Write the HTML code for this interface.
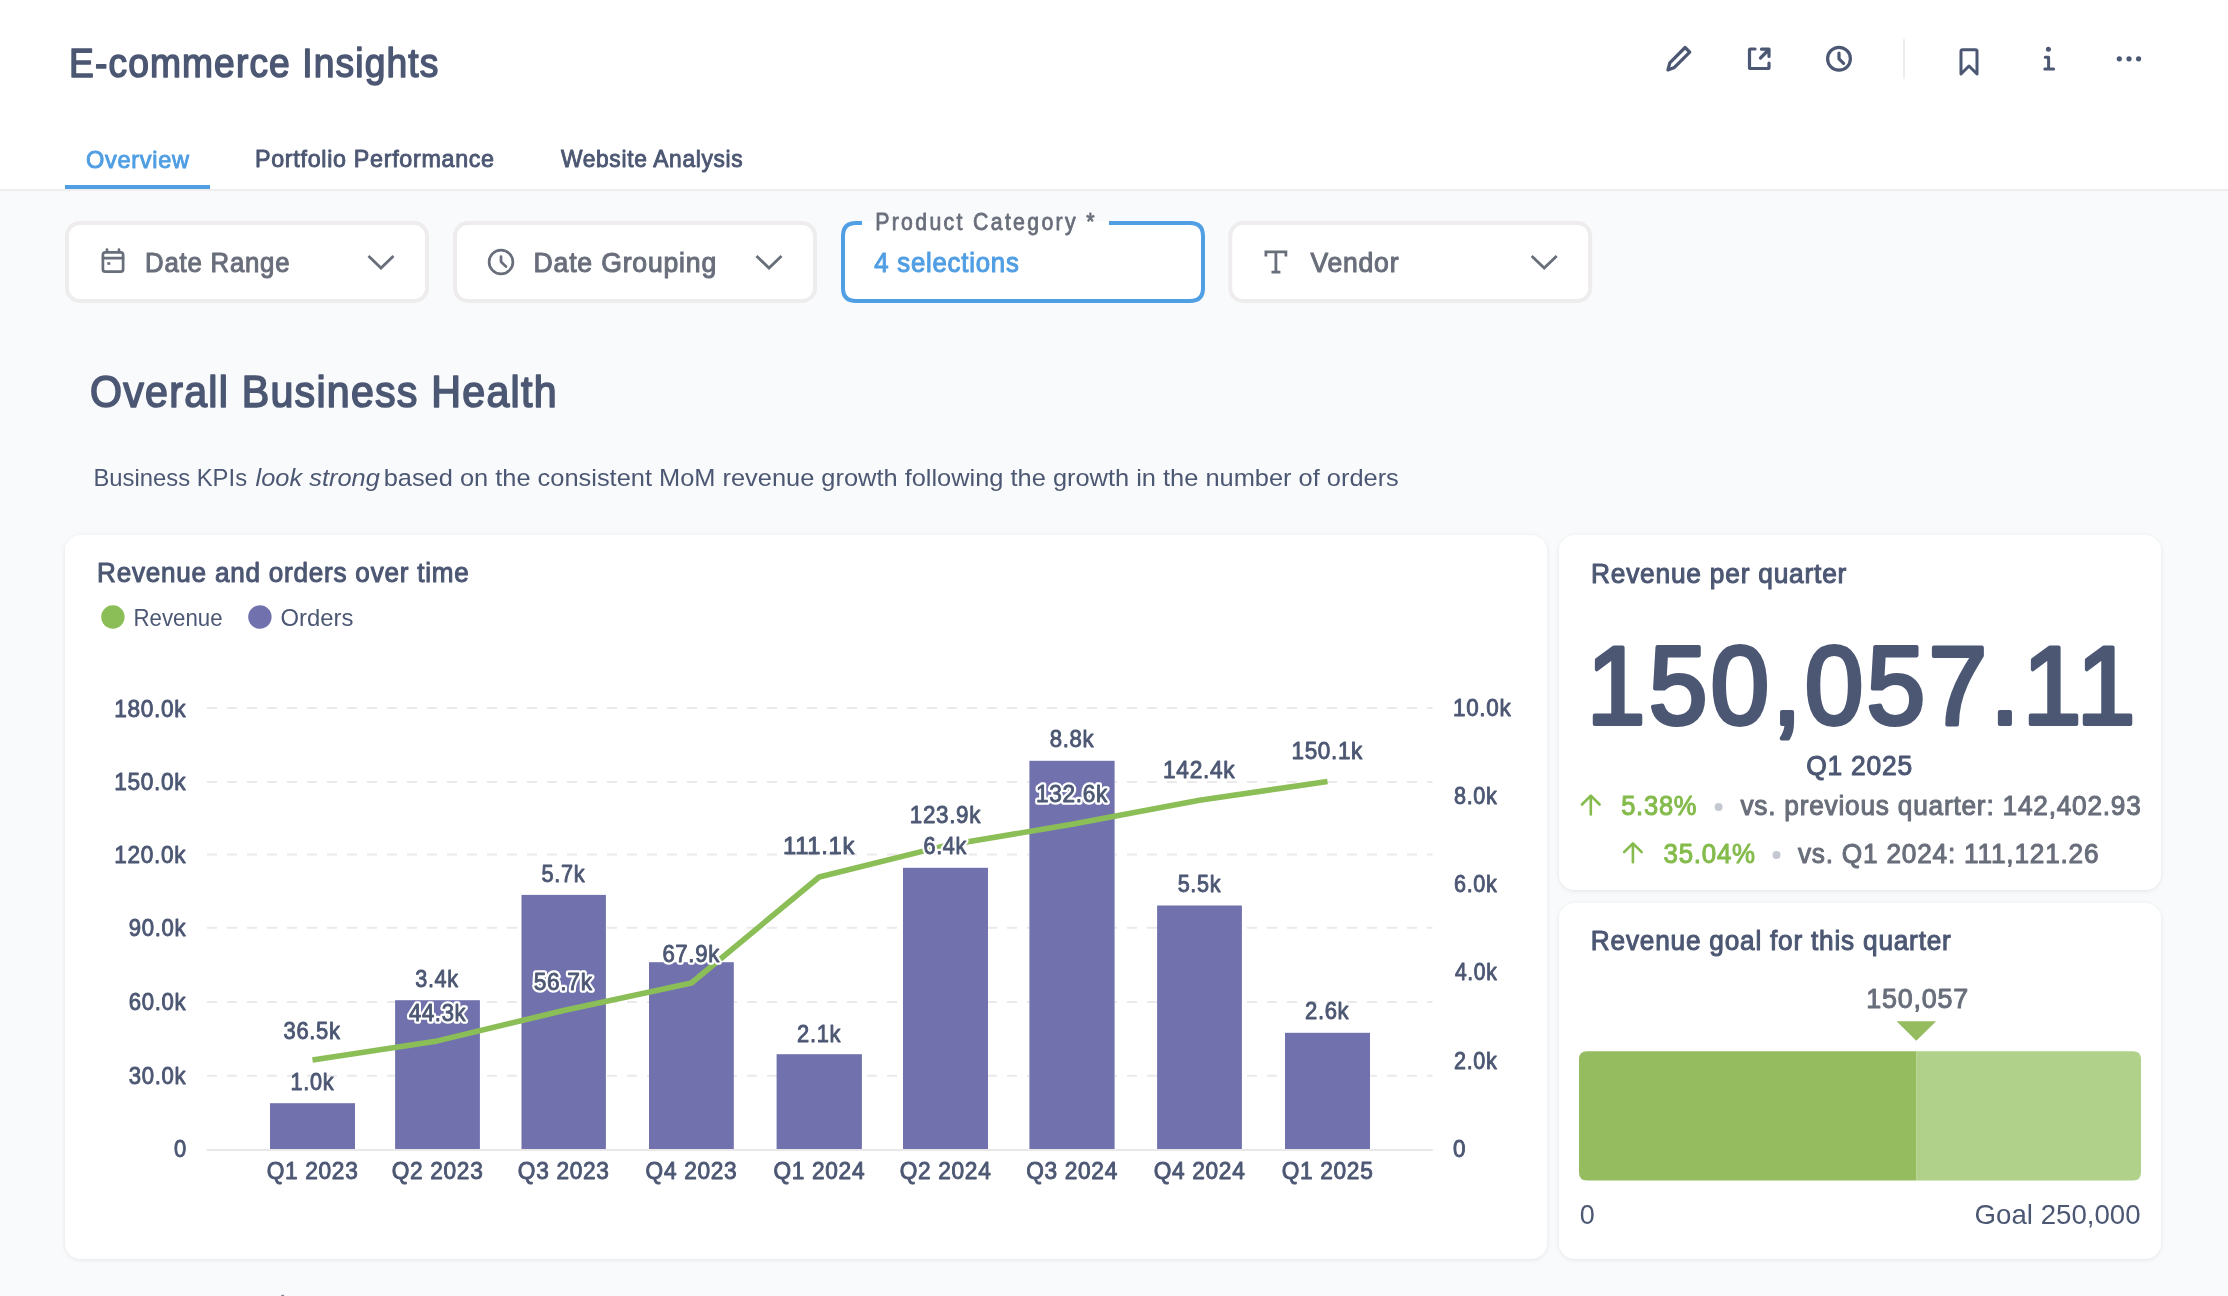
<!DOCTYPE html><html><head><meta charset="utf-8"><title>E-commerce Insights</title><style>
html,body{margin:0;padding:0;width:2228px;height:1296px;overflow:hidden;background:#F9FAFB;}
svg{display:block;position:absolute;left:0;top:0;will-change:transform;}
text{font-family:"Liberation Sans",sans-serif;}
</style></head><body>
<svg width="2228" height="1296" viewBox="0 0 2228 1296">
<defs><filter id="sh" x="-5%" y="-5%" width="110%" height="110%"><feDropShadow dx="0" dy="1" stdDeviation="2" flood-color="#000" flood-opacity="0.09"/></filter></defs>
<rect x="0" y="0" width="2228" height="189" fill="#fff"/>
<rect x="0" y="189" width="2228" height="2" fill="#EEECEC"/>
<rect x="65" y="185" width="145" height="4" fill="#509EE3"/>
<path d="M1667.9 69.9 L1669.8 62.8 L1685.1 47.5 L1689.75 52.15 L1674.45 67.45 Z" fill="none" stroke="#4C5773" stroke-width="3.2" stroke-linecap="round" stroke-linejoin="round"/>
<path d="M1755 49 L1750.5 49 Q1749.5 49 1749.5 50 L1749.5 67.5 Q1749.5 68.5 1750.5 68.5 L1768 68.5 Q1769 68.5 1769 67.5 L1769 63" fill="none" stroke="#4C5773" stroke-width="3.2" stroke-linecap="round" stroke-linejoin="round"/>
<path d="M1760.5 58 L1768.5 50 M1761.5 49.2 L1769 49.2 L1769 56.5" fill="none" stroke="#4C5773" stroke-width="3.2" stroke-linecap="round" stroke-linejoin="round"/>
<circle cx="1839" cy="58.8" r="11.4" fill="none" stroke="#4C5773" stroke-width="3.2" stroke-linecap="round" stroke-linejoin="round"/>
<path d="M1839 53.2 L1839 58.8 L1843.6 63.4" fill="none" stroke="#4C5773" stroke-width="3.2" stroke-linecap="round" stroke-linejoin="round"/>
<rect x="1903" y="39" width="2" height="40" fill="#EEECEC"/>
<path d="M1961 74 L1961 51.5 Q1961 49.8 1962.7 49.8 L1975.3 49.8 Q1977 49.8 1977 51.5 L1977 74 L1969 66 Z" fill="none" stroke="#4C5773" stroke-width="3" stroke-linejoin="round" stroke-linecap="round"/>
<circle cx="2048.4" cy="49.3" r="2.5" fill="#4C5773"/>
<path d="M2045.3 57.2 L2048.6 57.2 L2048.6 69 M2044.8 69 L2053.6 69" fill="none" stroke="#4C5773" stroke-width="3" stroke-linecap="round" stroke-linejoin="round"/>
<circle cx="2119.3" cy="58.8" r="2.6" fill="#4C5773"/>
<circle cx="2129" cy="58.8" r="2.6" fill="#4C5773"/>
<circle cx="2138.6" cy="58.8" r="2.6" fill="#4C5773"/>
<rect x="67" y="223" width="360" height="78" rx="13" fill="#fff" stroke="#EEECEC" stroke-width="4"/>
<rect x="455" y="223" width="360" height="78" rx="13" fill="#fff" stroke="#EEECEC" stroke-width="4"/>
<rect x="841" y="221" width="364" height="82" rx="15" fill="#fff"/>
<path d="M862 223 L856 223 Q843 223 843 236 L843 288 Q843 301 856 301 L1190 301 Q1203 301 1203 288 L1203 236 Q1203 223 1190 223 L1109 223" fill="none" stroke="#509EE3" stroke-width="4"/>
<rect x="1230.2" y="223" width="360" height="78" rx="13" fill="#fff" stroke="#EEECEC" stroke-width="4"/>
<rect x="102.9" y="252.3" width="20.2" height="19.4" rx="2.5" fill="none" stroke="#696E7B" stroke-width="2.7" stroke-linecap="round" stroke-linejoin="round"/>
<path d="M103 258.2 L123 258.2 M107 249.5 L107 252 M119 249.5 L119 252" fill="none" stroke="#696E7B" stroke-width="2.7" stroke-linecap="round" stroke-linejoin="round"/>
<rect x="107.3" y="262.2" width="3" height="2.6" fill="#696E7B"/>
<path d="M368.5 256 L381.0 268 L393.5 256" fill="none" stroke="#696E7B" stroke-width="2.8" stroke-linecap="butt" stroke-linejoin="miter"/>
<path d="M756.5 256 L769.0 268 L781.5 256" fill="none" stroke="#696E7B" stroke-width="2.8" stroke-linecap="butt" stroke-linejoin="miter"/>
<path d="M1531.7 256 L1544.2 268 L1556.7 256" fill="none" stroke="#696E7B" stroke-width="2.8" stroke-linecap="butt" stroke-linejoin="miter"/>
<circle cx="501" cy="262" r="11.9" fill="none" stroke="#696E7B" stroke-width="2.7" stroke-linecap="round" stroke-linejoin="round"/>
<path d="M501 256.5 L501 261.8 L506 266.6" fill="none" stroke="#696E7B" stroke-width="2.7" stroke-linecap="round" stroke-linejoin="round"/>
<path d="M1265.9 256.6 L1265.9 251.8 L1285.9 251.8 L1285.9 256.6 M1275.9 251.8 L1275.9 272.2 M1271.5 272.2 L1280.4 272.2" fill="none" stroke="#696E7B" stroke-width="2.8" stroke-linecap="butt" stroke-linejoin="miter"/>
<g filter="url(#sh)">
<rect x="65" y="535" width="1482" height="724" rx="16" fill="#fff"/>
<rect x="1559" y="535" width="602" height="355" rx="16" fill="#fff"/>
<rect x="1559" y="903" width="602" height="356" rx="16" fill="#fff"/>
</g>
<circle cx="112.9" cy="617" r="11.7" fill="#8BBE57"/>
<circle cx="259.9" cy="617" r="11.7" fill="#7172AD"/>
<line x1="207" y1="708" x2="1432.5" y2="708" stroke="#EBE9EA" stroke-width="2" stroke-dasharray="10 10"/>
<line x1="207" y1="781.9" x2="1432.5" y2="781.9" stroke="#EBE9EA" stroke-width="2" stroke-dasharray="10 10"/>
<line x1="207" y1="854.6" x2="1432.5" y2="854.6" stroke="#EBE9EA" stroke-width="2" stroke-dasharray="10 10"/>
<line x1="207" y1="927.8" x2="1432.5" y2="927.8" stroke="#EBE9EA" stroke-width="2" stroke-dasharray="10 10"/>
<line x1="207" y1="1001.9" x2="1432.5" y2="1001.9" stroke="#EBE9EA" stroke-width="2" stroke-dasharray="10 10"/>
<line x1="207" y1="1075.7" x2="1432.5" y2="1075.7" stroke="#EBE9EA" stroke-width="2" stroke-dasharray="10 10"/>
<rect x="270" y="1103.2" width="85.0" height="45.8" fill="#7172AD"/>
<rect x="395.1" y="1000.2" width="84.8" height="148.8" fill="#7172AD"/>
<rect x="521.5" y="894.9" width="84.4" height="254.1" fill="#7172AD"/>
<rect x="649" y="962.2" width="84.8" height="186.8" fill="#7172AD"/>
<rect x="776.6" y="1054.2" width="85.3" height="94.8" fill="#7172AD"/>
<rect x="903" y="867.8" width="85.0" height="281.2" fill="#7172AD"/>
<rect x="1029.4" y="760.8" width="85.2" height="388.2" fill="#7172AD"/>
<rect x="1157.1" y="905.5" width="84.8" height="243.5" fill="#7172AD"/>
<rect x="1285" y="1032.8" width="85.0" height="116.2" fill="#7172AD"/>
<rect x="206.7" y="1149" width="1226.1" height="2" fill="#E9E7E8"/>
<polyline points="312.5,1060.1 437.5,1040.9 563.7,1010.5 691.4,983.0 819.2,877.0 945.5,845.6 1072.0,824.3 1199.5,800.2 1327.5,781.4" fill="none" stroke="#8BBE57" stroke-width="5.6" stroke-linejoin="bevel" stroke-linecap="butt"/>
<path d="M1590.8 814.5 L1590.8 796 M1582 804.5 L1590.8 795.7 L1599.6 804.5" fill="none" stroke="#84BB4C" stroke-width="2.6" stroke-linecap="round" stroke-linejoin="round"/>
<path d="M1632.9 862.2 L1632.9 843.7 M1624.1 852.2 L1632.9 843.4 L1641.7 852.2" fill="none" stroke="#84BB4C" stroke-width="2.6" stroke-linecap="round" stroke-linejoin="round"/>
<circle cx="1718.6" cy="807" r="4" fill="#C4C8D0"/>
<circle cx="1776.5" cy="854.9" r="4" fill="#C4C8D0"/>
<path d="M1587 1051.2 L1916.6 1051.2 L1916.6 1180.6 L1587 1180.6 Q1579 1180.6 1579 1172.6 L1579 1059.2 Q1579 1051.2 1587 1051.2 Z" fill="#95BD5F"/>
<path d="M1916.6 1051.2 L2133 1051.2 Q2141 1051.2 2141 1059.2 L2141 1172.6 Q2141 1180.6 2133 1180.6 L1916.6 1180.6 Z" fill="#B0D189"/>
<path d="M1896.6 1021.2 L1936.1 1021.2 L1916.3 1040.8 Z" fill="#95BD5F"/>
<rect x="281.3" y="1294.8" width="2.8" height="1.2" fill="#7A8196"/>
<text x="69.07" y="77.24" font-size="40" font-weight="normal" stroke="#4C5773" stroke-width="1.52" stroke-linejoin="round" letter-spacing="1.20" fill="#4C5773" textLength="370.29" lengthAdjust="spacingAndGlyphs">E-commerce Insights</text>
<text x="86.00" y="167.53" font-size="24.5" font-weight="normal" stroke="#509EE3" stroke-width="0.93" stroke-linejoin="round" letter-spacing="0.73" fill="#509EE3" textLength="103.65" lengthAdjust="spacingAndGlyphs">Overview</text>
<text x="255.00" y="167.03" font-size="24.5" font-weight="normal" stroke="#4C5773" stroke-width="0.93" stroke-linejoin="round" letter-spacing="0.73" fill="#4C5773" textLength="239.77" lengthAdjust="spacingAndGlyphs">Portfolio Performance</text>
<text x="560.93" y="167.03" font-size="24.5" font-weight="normal" stroke="#4C5773" stroke-width="0.93" stroke-linejoin="round" letter-spacing="0.73" fill="#4C5773" textLength="182.48" lengthAdjust="spacingAndGlyphs">Website Analysis</text>
<text x="145.08" y="271.97" font-size="28" font-weight="normal" stroke="#696E7B" stroke-width="1.06" stroke-linejoin="round" letter-spacing="0.84" fill="#696E7B" textLength="145.20" lengthAdjust="spacingAndGlyphs">Date Range</text>
<text x="533.55" y="271.97" font-size="28" font-weight="normal" stroke="#696E7B" stroke-width="1.06" stroke-linejoin="round" letter-spacing="0.84" fill="#696E7B" textLength="183.43" lengthAdjust="spacingAndGlyphs">Date Grouping</text>
<text x="875.20" y="229.8" font-size="23.7" font-weight="normal" stroke="#696E7B" stroke-width="0.80" stroke-linejoin="round" letter-spacing="2.60" fill="#696E7B" textLength="221.64" lengthAdjust="spacingAndGlyphs">Product Category *</text>
<text x="874.22" y="272.37" font-size="28" font-weight="normal" stroke="#509EE3" stroke-width="1.06" stroke-linejoin="round" letter-spacing="0.84" fill="#509EE3" textLength="145.36" lengthAdjust="spacingAndGlyphs">4 selections</text>
<text x="1310.45" y="272.47" font-size="28" font-weight="normal" stroke="#696E7B" stroke-width="1.06" stroke-linejoin="round" letter-spacing="0.84" fill="#696E7B" textLength="88.86" lengthAdjust="spacingAndGlyphs">Vendor</text>
<text x="90.00" y="406.66" font-size="44" font-weight="normal" stroke="#4C5773" stroke-width="1.67" stroke-linejoin="round" letter-spacing="1.32" fill="#4C5773" textLength="467.78" lengthAdjust="spacingAndGlyphs">Overall Business Health</text>
<text x="93.43" y="485.7" font-size="24.5" font-weight="normal" fill="#4C5773" textLength="153.64" lengthAdjust="spacingAndGlyphs">Business KPIs</text>
<text x="255.60" y="485.7" font-size="24.5" font-weight="normal" font-style="italic" fill="#4C5773" textLength="124.25" lengthAdjust="spacingAndGlyphs">look strong</text>
<text x="383.66" y="485.7" font-size="24.5" font-weight="normal" fill="#4C5773" textLength="1015.13" lengthAdjust="spacingAndGlyphs">based on the consistent MoM revenue growth following the growth in the number of orders</text>
<text x="97.05" y="581.98" font-size="27.5" font-weight="normal" stroke="#4C5773" stroke-width="1.04" stroke-linejoin="round" letter-spacing="0.82" fill="#4C5773" textLength="372.54" lengthAdjust="spacingAndGlyphs">Revenue and orders over time</text>
<text x="133.57" y="626" font-size="24" font-weight="normal" fill="#4C5773" textLength="89.00" lengthAdjust="spacingAndGlyphs">Revenue</text>
<text x="280.50" y="626" font-size="24" font-weight="normal" fill="#4C5773" textLength="72.86" lengthAdjust="spacingAndGlyphs">Orders</text>
<text x="114.16" y="716.54" font-size="24" font-weight="normal" stroke="#4C5773" stroke-width="0.91" stroke-linejoin="round" letter-spacing="0.72" fill="#4C5773" textLength="72.07" lengthAdjust="spacingAndGlyphs">180.0k</text>
<text x="114.16" y="789.54" font-size="24" font-weight="normal" stroke="#4C5773" stroke-width="0.91" stroke-linejoin="round" letter-spacing="0.72" fill="#4C5773" textLength="72.07" lengthAdjust="spacingAndGlyphs">150.0k</text>
<text x="114.36" y="863.44" font-size="24" font-weight="normal" stroke="#4C5773" stroke-width="0.91" stroke-linejoin="round" letter-spacing="0.72" fill="#4C5773" textLength="71.87" lengthAdjust="spacingAndGlyphs">120.0k</text>
<text x="128.70" y="936.44" font-size="24" font-weight="normal" stroke="#4C5773" stroke-width="0.91" stroke-linejoin="round" letter-spacing="0.72" fill="#4C5773" textLength="57.47" lengthAdjust="spacingAndGlyphs">90.0k</text>
<text x="128.70" y="1010.44" font-size="24" font-weight="normal" stroke="#4C5773" stroke-width="0.91" stroke-linejoin="round" letter-spacing="0.72" fill="#4C5773" textLength="57.47" lengthAdjust="spacingAndGlyphs">60.0k</text>
<text x="128.70" y="1084.14" font-size="24" font-weight="normal" stroke="#4C5773" stroke-width="0.91" stroke-linejoin="round" letter-spacing="0.72" fill="#4C5773" textLength="57.47" lengthAdjust="spacingAndGlyphs">30.0k</text>
<text x="174.00" y="1157.04" font-size="24" font-weight="normal" stroke="#4C5773" stroke-width="0.91" stroke-linejoin="round" letter-spacing="0.72" fill="#4C5773" textLength="12.87" lengthAdjust="spacingAndGlyphs">0</text>
<text x="1453.06" y="716.24" font-size="24" font-weight="normal" stroke="#4C5773" stroke-width="0.91" stroke-linejoin="round" letter-spacing="0.72" fill="#4C5773" textLength="58.29" lengthAdjust="spacingAndGlyphs">10.0k</text>
<text x="1454.00" y="804.24" font-size="24" font-weight="normal" stroke="#4C5773" stroke-width="0.91" stroke-linejoin="round" letter-spacing="0.72" fill="#4C5773" textLength="43.33" lengthAdjust="spacingAndGlyphs">8.0k</text>
<text x="1454.00" y="892.04" font-size="24" font-weight="normal" stroke="#4C5773" stroke-width="0.91" stroke-linejoin="round" letter-spacing="0.72" fill="#4C5773" textLength="43.33" lengthAdjust="spacingAndGlyphs">6.0k</text>
<text x="1454.88" y="980.24" font-size="24" font-weight="normal" stroke="#4C5773" stroke-width="0.91" stroke-linejoin="round" letter-spacing="0.72" fill="#4C5773" textLength="42.46" lengthAdjust="spacingAndGlyphs">4.0k</text>
<text x="1454.00" y="1068.84" font-size="24" font-weight="normal" stroke="#4C5773" stroke-width="0.91" stroke-linejoin="round" letter-spacing="0.72" fill="#4C5773" textLength="43.33" lengthAdjust="spacingAndGlyphs">2.0k</text>
<text x="1452.90" y="1156.74" font-size="24" font-weight="normal" stroke="#4C5773" stroke-width="0.91" stroke-linejoin="round" letter-spacing="0.72" fill="#4C5773" textLength="13.17" lengthAdjust="spacingAndGlyphs">0</text>
<text x="266.65" y="1179.14" font-size="24" font-weight="normal" stroke="#4C5773" stroke-width="0.91" stroke-linejoin="round" letter-spacing="0.72" fill="#4C5773" textLength="91.82" lengthAdjust="spacingAndGlyphs">Q1 2023</text>
<text x="391.65" y="1179.14" font-size="24" font-weight="normal" stroke="#4C5773" stroke-width="0.91" stroke-linejoin="round" letter-spacing="0.72" fill="#4C5773" textLength="91.82" lengthAdjust="spacingAndGlyphs">Q2 2023</text>
<text x="517.85" y="1179.14" font-size="24" font-weight="normal" stroke="#4C5773" stroke-width="0.91" stroke-linejoin="round" letter-spacing="0.72" fill="#4C5773" textLength="91.82" lengthAdjust="spacingAndGlyphs">Q3 2023</text>
<text x="645.55" y="1179.14" font-size="24" font-weight="normal" stroke="#4C5773" stroke-width="0.91" stroke-linejoin="round" letter-spacing="0.72" fill="#4C5773" textLength="91.82" lengthAdjust="spacingAndGlyphs">Q4 2023</text>
<text x="773.40" y="1179.14" font-size="24" font-weight="normal" stroke="#4C5773" stroke-width="0.91" stroke-linejoin="round" letter-spacing="0.72" fill="#4C5773" textLength="91.82" lengthAdjust="spacingAndGlyphs">Q1 2024</text>
<text x="899.65" y="1179.14" font-size="24" font-weight="normal" stroke="#4C5773" stroke-width="0.91" stroke-linejoin="round" letter-spacing="0.72" fill="#4C5773" textLength="91.82" lengthAdjust="spacingAndGlyphs">Q2 2024</text>
<text x="1026.15" y="1179.14" font-size="24" font-weight="normal" stroke="#4C5773" stroke-width="0.91" stroke-linejoin="round" letter-spacing="0.72" fill="#4C5773" textLength="91.82" lengthAdjust="spacingAndGlyphs">Q3 2024</text>
<text x="1153.65" y="1179.14" font-size="24" font-weight="normal" stroke="#4C5773" stroke-width="0.91" stroke-linejoin="round" letter-spacing="0.72" fill="#4C5773" textLength="91.82" lengthAdjust="spacingAndGlyphs">Q4 2024</text>
<text x="1281.65" y="1179.14" font-size="24" font-weight="normal" stroke="#4C5773" stroke-width="0.91" stroke-linejoin="round" letter-spacing="0.72" fill="#4C5773" textLength="91.82" lengthAdjust="spacingAndGlyphs">Q1 2025</text>
<text x="283.60" y="1038.54" font-size="24" font-weight="normal" stroke="#4C5773" stroke-width="0.91" stroke-linejoin="round" letter-spacing="0.72" fill="#4C5773" textLength="56.97" lengthAdjust="spacingAndGlyphs">36.5k</text>
<text x="290.60" y="1090.24" font-size="24" font-weight="normal" stroke="#4C5773" stroke-width="0.91" stroke-linejoin="round" letter-spacing="0.72" fill="#4C5773" textLength="43.53" lengthAdjust="spacingAndGlyphs">1.0k</text>
<text x="415.30" y="986.84" font-size="24" font-weight="normal" stroke="#4C5773" stroke-width="0.91" stroke-linejoin="round" letter-spacing="0.72" fill="#4C5773" textLength="43.33" lengthAdjust="spacingAndGlyphs">3.4k</text>
<text x="409.02" y="1021.24" font-size="24" font-weight="normal" letter-spacing="0.72" fill="#fff" stroke="#fff" stroke-width="5.41" stroke-linejoin="round" textLength="57.25" lengthAdjust="spacingAndGlyphs">44.3k</text><text x="409.02" y="1021.24" font-size="24" font-weight="normal" stroke="#4C5773" stroke-width="0.91" stroke-linejoin="round" letter-spacing="0.72" fill="#4C5773" textLength="57.25" lengthAdjust="spacingAndGlyphs">44.3k</text>
<text x="541.60" y="881.64" font-size="24" font-weight="normal" stroke="#4C5773" stroke-width="0.91" stroke-linejoin="round" letter-spacing="0.72" fill="#4C5773" textLength="43.62" lengthAdjust="spacingAndGlyphs">5.7k</text>
<text x="533.80" y="989.84" font-size="24" font-weight="normal" letter-spacing="0.72" fill="#fff" stroke="#fff" stroke-width="5.41" stroke-linejoin="round" textLength="58.85" lengthAdjust="spacingAndGlyphs">56.7k</text><text x="533.80" y="989.84" font-size="24" font-weight="normal" stroke="#4C5773" stroke-width="0.91" stroke-linejoin="round" letter-spacing="0.72" fill="#4C5773" textLength="58.85" lengthAdjust="spacingAndGlyphs">56.7k</text>
<text x="662.40" y="961.74" font-size="24" font-weight="normal" letter-spacing="0.72" fill="#fff" stroke="#fff" stroke-width="5.41" stroke-linejoin="round" textLength="57.47" lengthAdjust="spacingAndGlyphs">67.9k</text><text x="662.40" y="961.74" font-size="24" font-weight="normal" stroke="#4C5773" stroke-width="0.91" stroke-linejoin="round" letter-spacing="0.72" fill="#4C5773" textLength="57.47" lengthAdjust="spacingAndGlyphs">67.9k</text>
<text x="783.01" y="853.54" font-size="24" font-weight="normal" stroke="#4C5773" stroke-width="0.91" stroke-linejoin="round" letter-spacing="0.72" fill="#4C5773" textLength="72.12" lengthAdjust="spacingAndGlyphs">111.1k</text>
<text x="797.10" y="1041.84" font-size="24" font-weight="normal" stroke="#4C5773" stroke-width="0.91" stroke-linejoin="round" letter-spacing="0.72" fill="#4C5773" textLength="44.02" lengthAdjust="spacingAndGlyphs">2.1k</text>
<text x="909.87" y="822.84" font-size="24" font-weight="normal" stroke="#4C5773" stroke-width="0.91" stroke-linejoin="round" letter-spacing="0.72" fill="#4C5773" textLength="71.16" lengthAdjust="spacingAndGlyphs">123.9k</text>
<text x="923.50" y="853.54" font-size="24" font-weight="normal" letter-spacing="0.72" fill="#fff" stroke="#fff" stroke-width="5.41" stroke-linejoin="round" textLength="43.43" lengthAdjust="spacingAndGlyphs">6.4k</text><text x="923.50" y="853.54" font-size="24" font-weight="normal" stroke="#4C5773" stroke-width="0.91" stroke-linejoin="round" letter-spacing="0.72" fill="#4C5773" textLength="43.43" lengthAdjust="spacingAndGlyphs">6.4k</text>
<text x="1049.70" y="747.44" font-size="24" font-weight="normal" stroke="#4C5773" stroke-width="0.91" stroke-linejoin="round" letter-spacing="0.72" fill="#4C5773" textLength="44.51" lengthAdjust="spacingAndGlyphs">8.8k</text>
<text x="1036.06" y="802.34" font-size="24" font-weight="normal" letter-spacing="0.72" fill="#fff" stroke="#fff" stroke-width="5.41" stroke-linejoin="round" textLength="71.87" lengthAdjust="spacingAndGlyphs">132.6k</text><text x="1036.06" y="802.34" font-size="24" font-weight="normal" stroke="#4C5773" stroke-width="0.91" stroke-linejoin="round" letter-spacing="0.72" fill="#4C5773" textLength="71.87" lengthAdjust="spacingAndGlyphs">132.6k</text>
<text x="1163.05" y="778.34" font-size="24" font-weight="normal" stroke="#4C5773" stroke-width="0.91" stroke-linejoin="round" letter-spacing="0.72" fill="#4C5773" textLength="72.27" lengthAdjust="spacingAndGlyphs">142.4k</text>
<text x="1177.70" y="892.04" font-size="24" font-weight="normal" stroke="#4C5773" stroke-width="0.91" stroke-linejoin="round" letter-spacing="0.72" fill="#4C5773" textLength="43.42" lengthAdjust="spacingAndGlyphs">5.5k</text>
<text x="1291.46" y="759.04" font-size="24" font-weight="normal" stroke="#4C5773" stroke-width="0.91" stroke-linejoin="round" letter-spacing="0.72" fill="#4C5773" textLength="71.57" lengthAdjust="spacingAndGlyphs">150.1k</text>
<text x="1305.00" y="1019.34" font-size="24" font-weight="normal" stroke="#4C5773" stroke-width="0.91" stroke-linejoin="round" letter-spacing="0.72" fill="#4C5773" textLength="44.31" lengthAdjust="spacingAndGlyphs">2.6k</text>
<text x="1590.94" y="582.78" font-size="27.5" font-weight="normal" stroke="#4C5773" stroke-width="1.04" stroke-linejoin="round" letter-spacing="0.82" fill="#4C5773" textLength="256.19" lengthAdjust="spacingAndGlyphs">Revenue per quarter</text>
<text x="1586.80" y="724.19" font-size="111" font-weight="normal" stroke="#4C5773" stroke-width="4.22" stroke-linejoin="round" letter-spacing="3.33" fill="#4C5773" textLength="551.78" lengthAdjust="spacingAndGlyphs">150,057.11</text>
<text x="1806.20" y="775.18" font-size="27.5" font-weight="normal" stroke="#4C5773" stroke-width="1.04" stroke-linejoin="round" letter-spacing="0.82" fill="#4C5773" textLength="106.84" lengthAdjust="spacingAndGlyphs">Q1 2025</text>
<text x="1621.20" y="814.58" font-size="27.5" font-weight="normal" stroke="#84BB4C" stroke-width="1.04" stroke-linejoin="round" letter-spacing="0.82" fill="#84BB4C" textLength="76.07" lengthAdjust="spacingAndGlyphs">5.38%</text>
<text x="1740.45" y="814.58" font-size="27.5" font-weight="normal" stroke="#696E7B" stroke-width="1.04" stroke-linejoin="round" letter-spacing="0.82" fill="#696E7B" textLength="401.17" lengthAdjust="spacingAndGlyphs">vs. previous quarter: 142,402.93</text>
<text x="1663.50" y="862.68" font-size="27.5" font-weight="normal" stroke="#84BB4C" stroke-width="1.04" stroke-linejoin="round" letter-spacing="0.82" fill="#84BB4C" textLength="92.29" lengthAdjust="spacingAndGlyphs">35.04%</text>
<text x="1797.95" y="862.68" font-size="27.5" font-weight="normal" stroke="#696E7B" stroke-width="1.04" stroke-linejoin="round" letter-spacing="0.82" fill="#696E7B" textLength="301.39" lengthAdjust="spacingAndGlyphs">vs. Q1 2024: 111,121.26</text>
<text x="1590.85" y="950.28" font-size="27.5" font-weight="normal" stroke="#4C5773" stroke-width="1.04" stroke-linejoin="round" letter-spacing="0.82" fill="#4C5773" textLength="360.72" lengthAdjust="spacingAndGlyphs">Revenue goal for this quarter</text>
<text x="1866.32" y="1008.28" font-size="27.5" font-weight="normal" stroke="#696E7B" stroke-width="1.04" stroke-linejoin="round" letter-spacing="0.82" fill="#696E7B" textLength="102.71" lengthAdjust="spacingAndGlyphs">150,057</text>
<text x="1579.70" y="1224.4" font-size="27.5" font-weight="normal" fill="#4C5773" textLength="14.99" lengthAdjust="spacingAndGlyphs">0</text>
<text x="1974.60" y="1224.4" font-size="27.5" font-weight="normal" fill="#4C5773" textLength="165.95" lengthAdjust="spacingAndGlyphs">Goal 250,000</text>
</svg></body></html>
